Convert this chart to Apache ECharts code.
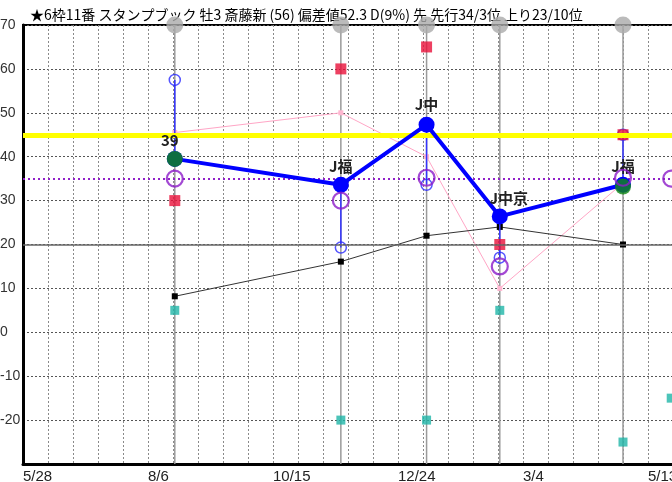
<!DOCTYPE html>
<html>
<head>
<meta charset="utf-8">
<script src="https://cdn.jsdelivr.net/npm/echarts@6/dist/echarts.min.js"></script>
<style>
html,body{margin:0;padding:0;background:#fff;}
#chart{width:672px;height:482px;}
</style>
</head>
<body>
<div id="chart"></div>
<script>
/*标题*/
var titleText='★6枠11番 スタンプブック 牡3 斎藤新 (56) 偏差値52.3 D(9%) 先 先行34/3位 上り23/10位';
/*X轴标签 (每70天一个)*/
var tickLabels=['5/28','8/6','10/15','12/24','3/4','5/13'];
/*出走日 (距5/28的天数)*/
var raceDays=[85,178,226,267,336];
var nextDay=363;
/*主指数及标签*/
var mainValues=[39.5,33.6,47.3,26.4,33.6];
var mainLabels=['39','J福','J中','J中京','J福'];
/*绿色点*/
var greenDays=[85,336];
var greenValues=[39.5,33.2];
/*蓝色小圈*/
var blueRingValues=[57.5,19.3,33.6,17,45];
/*紫色圈*/
var purpleValues=[35,30,35.2,15,35.2];
var nextPurple=35;
/*红色方块*/
var redValues=[30,60,65,20,45];
/*青色方块*/
var tealValues=[5,-20,-20,5,-25];
var nextTeal=-15;
/*黑色折线*/
var blackValues=[8.2,16.1,22,24,20];
/*粉色折线*/
var pinkValues=[45.5,50,40,10,34];
/*水平参考线*/
var yellowLevel=45;
var purpleLevel=35;
var baseLevel=20;
var yMin=-30;
var yMax=70;

var jpFont='"Noto Sans CJK JP", sans-serif';
var numFont='"Liberation Sans", Arial, sans-serif';

/*把天数和数值组成点*/
var toPoints=function(days,vals){
	var arr=[];
	for(var i=0;i<days.length;i++){
		arr.push([days[i],vals[i]]);
	}
	return arr;
};

var _connect=[];
for(var i=0;i<raceDays.length;i++){
	_connect.push([raceDays[i],mainValues[i],blueRingValues[i]]);
}
var _top=[];
for(var k=0;k<raceDays.length;k++){
	_top.push([raceDays[k],yMax]);
}
/*主线数据 (个别标签微调)*/
var _main=[];
var _labelOffset=[[-5,0],[0,0],[0,-2],[9,0],[0,0]];
for(var m=0;m<raceDays.length;m++){
	_main.push({value:[raceDays[m],mainValues[m]],label:{offset:_labelOffset[m]}});
}

/*竖线*/
var vLine=function(params,api){
	var p1=api.coord([api.value(0),yMin]);
	var p2=api.coord([api.value(0),yMax]);
	return {
		type:'line',
		shape:{x1:p1[0],y1:p1[1],x2:p2[0],y2:p2[1]},
		style:{stroke:'#9a9a9a',lineWidth:1.5}
	};
};

var option={
	animation:false,
	textStyle:{fontFamily:jpFont},
	title:{
		text:titleText,
		left:25,
		top:3,
		z:0,
		textStyle:{fontSize:14,fontWeight:'normal',color:'#000',fontFamily:jpFont}
	},
	grid:{
		left:23,
		top:25,
		width:675,
		bottom:18,
		outerBoundsMode:'none',
		containLabel:false,
		show:true,
		borderColor:'#000',
		borderWidth:2,
		backgroundColor:'#fff'
	},
	xAxis:{
		type:'value',
		min:0,
		max:378,
		interval:14,
		axisLine:{onZero:false,lineStyle:{color:'#000',width:3}},
		axisTick:{show:false},
		axisLabel:{
			formatter:function(v){return v%70===0?tickLabels[v/70]:'';},
			align:'left',
			margin:5,
			fontSize:15,
			color:'#222',
			showMaxLabel:false,
			fontFamily:numFont
		},
		splitLine:{lineStyle:{color:'#8a8a8a',type:[2,2],width:1}}
	},
	yAxis:{
		type:'value',
		min:yMin,
		max:yMax,
		interval:10,
		axisLine:{show:true,onZero:false,lineStyle:{color:'#000',width:3}},
		axisTick:{show:false},
		axisLabel:{
			formatter:function(v){return v===yMin?'':String(v);},
			align:'left',
			margin:23,
			fontSize:14,
			color:'#333',
			fontFamily:numFont
		},
		splitLine:{lineStyle:{color:'#555',type:[2,2],width:1}}
	},
	series:[
		{
			/*出走日竖线*/
			type:'custom',
			z:1,
			clip:true,
			renderItem:vLine,
			data:raceDays
		},
		{
			/*水平参考线*/
			type:'line',
			data:[],
			z:1,
			markLine:{
				silent:true,
				symbol:'none',
				label:{show:false},
				data:[
					{yAxis:baseLevel,lineStyle:{color:'#666',width:1.5,type:'solid'}},
					{yAxis:yellowLevel,lineStyle:{color:'#ffff00',width:5,type:'solid'}},
					{yAxis:purpleLevel,lineStyle:{color:'#9020c8',width:2,type:[2,3]}}
				]
			}
		},
		{
			type:'line',
			data:toPoints(raceDays,pinkValues),
			z:2,
			symbol:'rect',
			symbolSize:5,
			lineStyle:{color:'#ffa6c6',width:1},
			itemStyle:{color:'#ffb6d0'}
		},
		{
			type:'line',
			data:toPoints(raceDays,blackValues),
			z:2,
			symbol:'rect',
			symbolSize:6,
			lineStyle:{color:'#333',width:1},
			itemStyle:{color:'#000'}
		},
		{
			/*主点到蓝色小圈的竖线*/
			type:'custom',
			z:3,
			renderItem:function(params,api){
				var p1=api.coord([api.value(0),api.value(1)]);
				var p2=api.coord([api.value(0),api.value(2)]);
				return {
					type:'line',
					shape:{x1:p1[0],y1:p1[1],x2:p2[0],y2:p2[1]},
					style:{stroke:'#3434ff',lineWidth:1.5}
				};
			},
			data:_connect
		},
		{
			type:'scatter',
			data:toPoints(raceDays,blueRingValues),
			z:3,
			symbol:'circle',
			symbolSize:11,
			itemStyle:{color:'rgba(0,0,0,0)',borderColor:'#2a2aff',borderWidth:1.5}
		},
		{
			type:'scatter',
			data:toPoints(raceDays,tealValues).concat([[nextDay,nextTeal]]),
			z:4,
			symbol:'rect',
			symbolSize:9,
			itemStyle:{color:'#1fb5a8'}
		},
		{
			type:'scatter',
			data:toPoints(raceDays,redValues),
			z:4,
			symbol:'rect',
			symbolSize:11,
			itemStyle:{color:'#e8103a'}
		},
		{
			type:'line',
			data:_main,
			z:5,
			symbol:'circle',
			symbolSize:16,
			lineStyle:{color:'#0000ff',width:4},
			itemStyle:{color:'#0000ff'},
			label:{
				show:true,
				position:'top',
				distance:3,
				formatter:function(p){return mainLabels[p.dataIndex];},
				fontSize:15,
				fontWeight:'bold',
				color:'#222',
				fontFamily:jpFont
			}
		},
		{
			type:'scatter',
			data:toPoints(greenDays,greenValues),
			z:6,
			symbol:'circle',
			symbolSize:16,
			itemStyle:{color:'#128a12'}
		},
		{
			type:'scatter',
			data:toPoints(raceDays,purpleValues).concat([[nextDay,nextPurple]]),
			z:7,
			symbol:'circle',
			symbolSize:16,
			itemStyle:{color:'rgba(0,0,0,0)',borderColor:'#8c1cc8',borderWidth:2.2}
		},
		{
			/*顶部灰色圆点*/
			type:'scatter',
			data:_top,
			z:8,
			clip:false,
			symbol:'circle',
			symbolSize:17,
			itemStyle:{color:'#aaaaaa'}
		}
	]
};

var chart=echarts.init(document.getElementById('chart'));
chart.setOption(option,true);
</script>
</body>
</html>
